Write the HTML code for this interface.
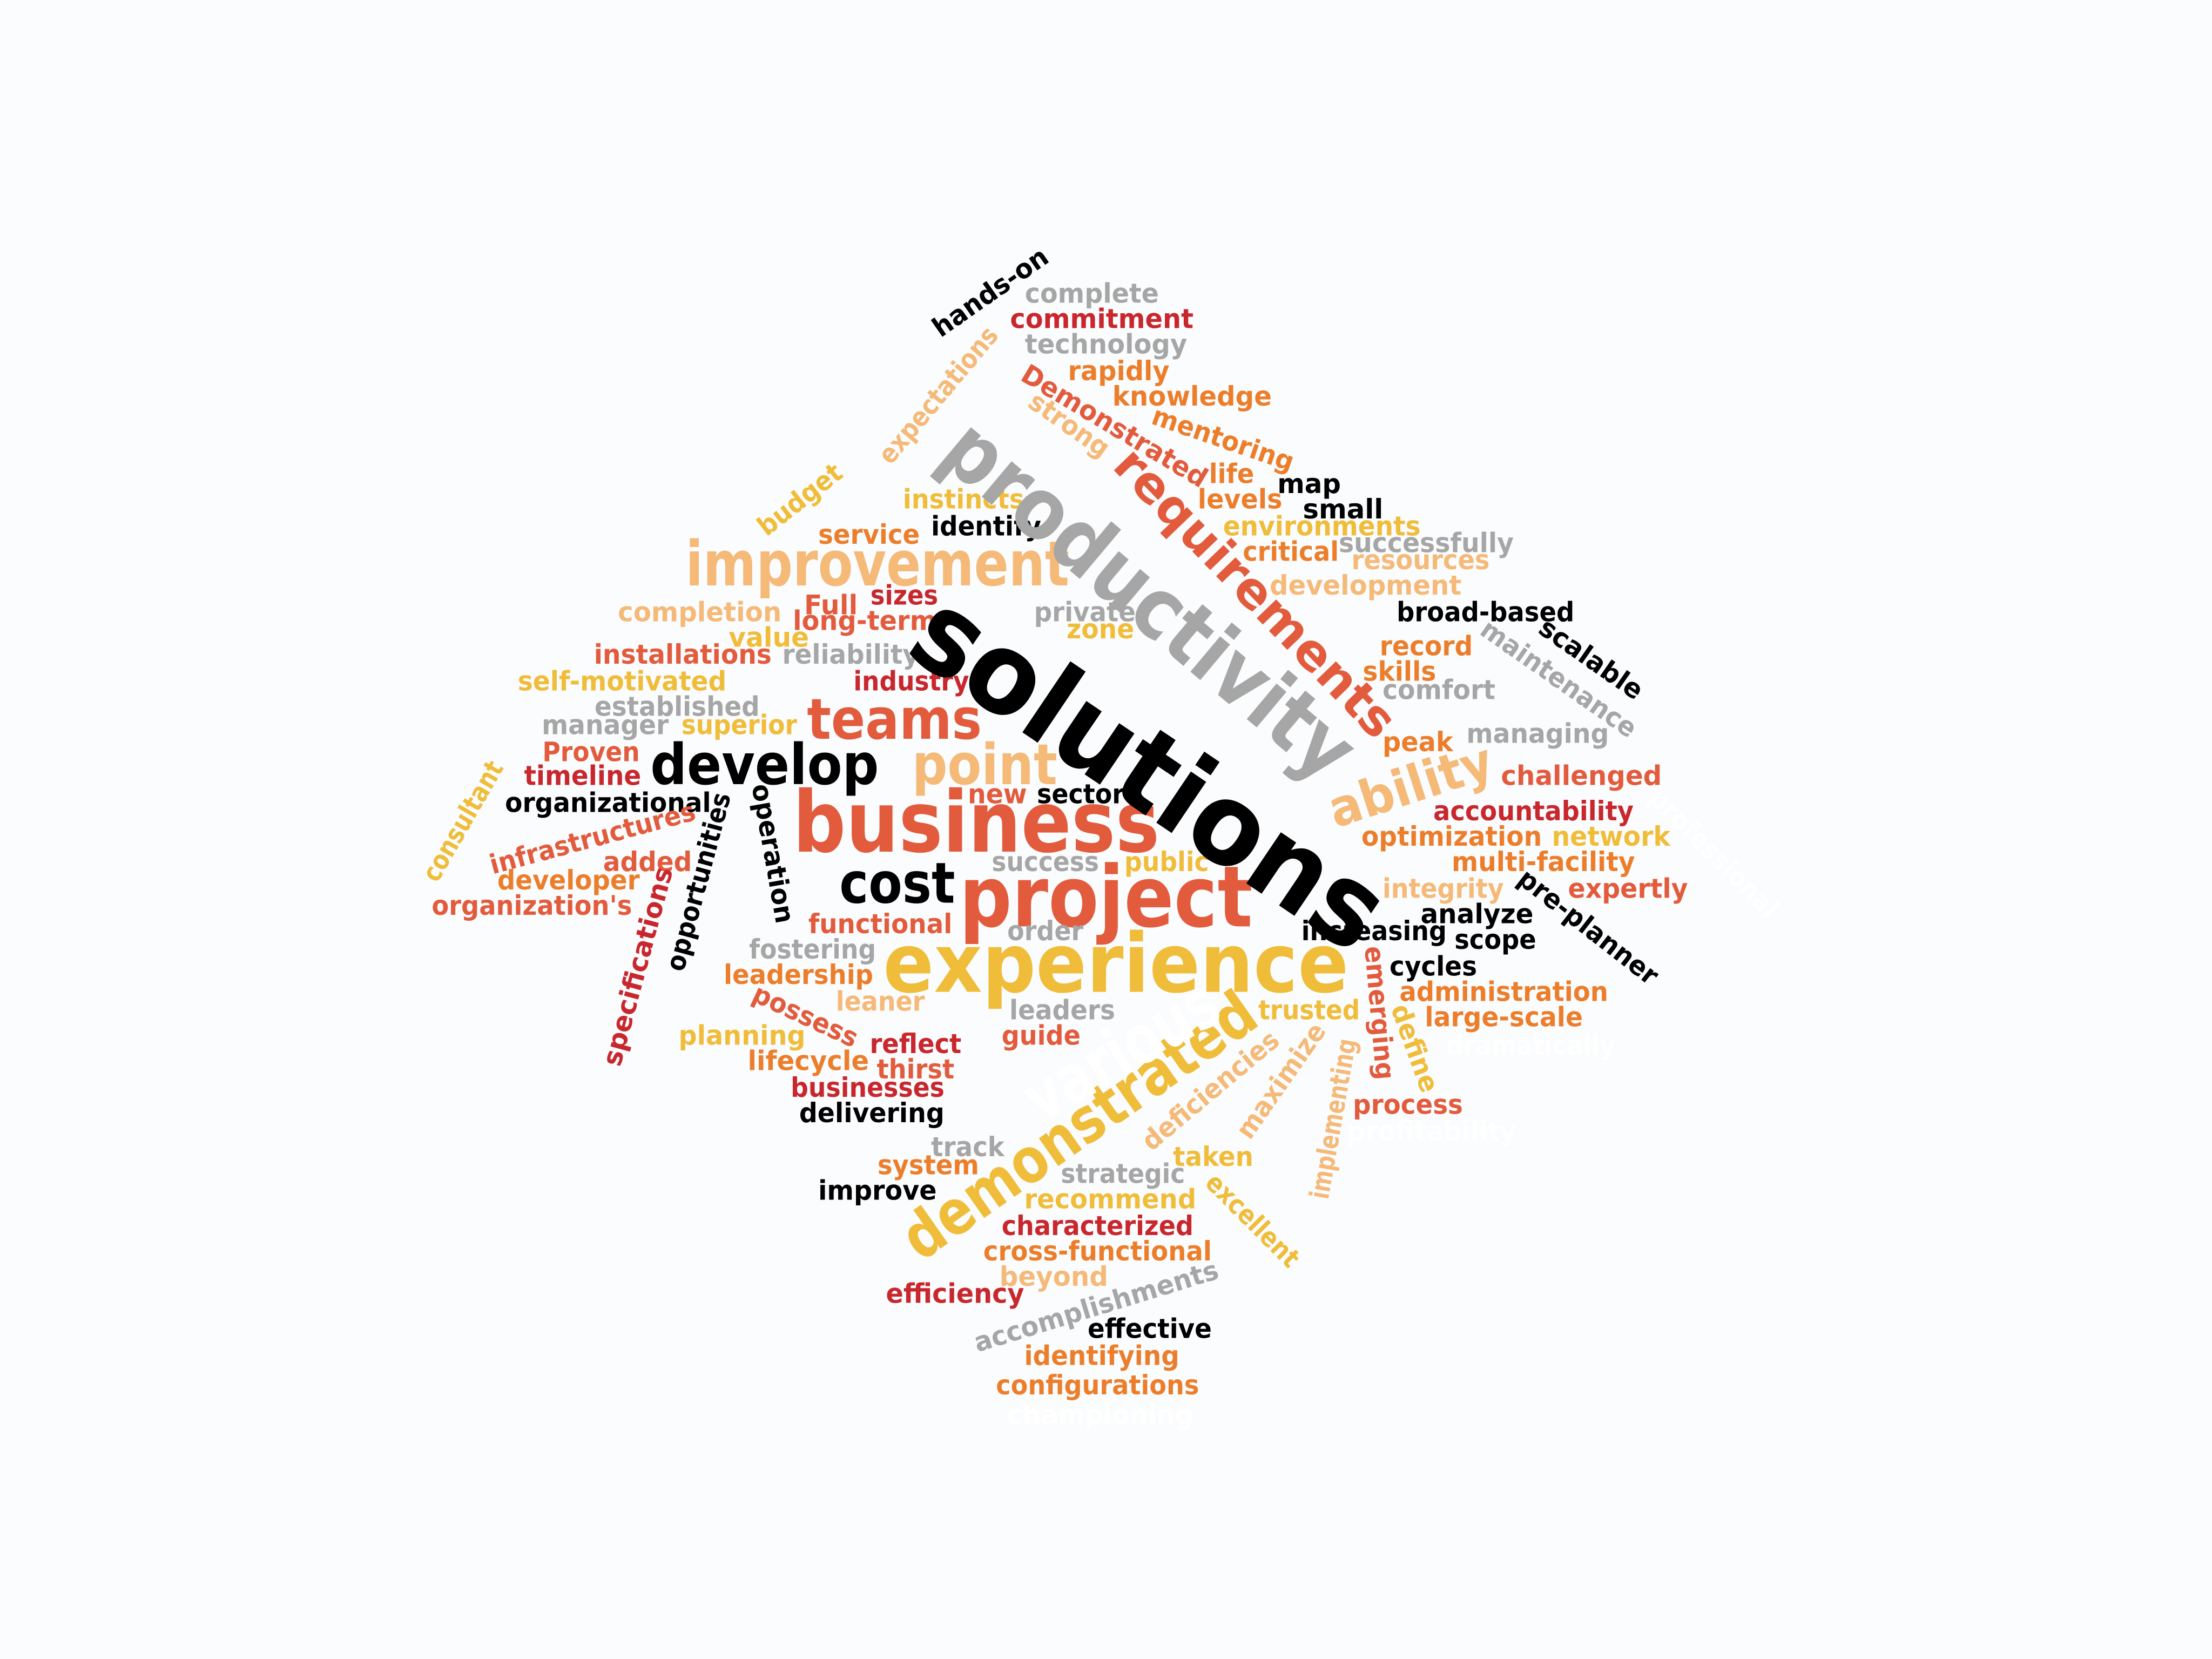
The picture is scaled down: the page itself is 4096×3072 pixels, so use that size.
<!DOCTYPE html>
<html><head><meta charset="utf-8"><style>
html,body{margin:0;padding:0;background:#fbfcfe;}
svg{display:block}
text{font-family:"DejaVu Sans","Liberation Sans",sans-serif;font-weight:600;}
</style></head><body>
<svg id="cloud" width="4096" height="3072" viewBox="0 0 1568 1176" xmlns="http://www.w3.org/2000/svg">
<rect width="1568" height="1176" fill="#fbfcfe"/>
</svg>
<script>
const palette={k:"#000000",g:"#a6a6a6",d:"#c8272d",r:"#e35b3d",o:"#ec7e2b",l:"#f5b978",y:"#f0bd3a",w:"#ffffff"};
// word, font size, colour key
const words=["hands-on","complete","commitment","technology","rapidly","knowledge","Demonstrated","strong","mentoring","expectations","budget","life","map","levels","small","instincts","identify","environments","service","successfully","critical","resources","improvement","development","Full","sizes","completion","long-term","private","broad-based","zone","value","record","installations","reliability","skills","self-motivated","industry","comfort","established","teams","manager","superior","managing","peak","Proven","develop","point","timeline","challenged","new","sector","organizational","accountability","business","optimization","network","added","success","public","multi-facility","developer","cost","project","integrity","expertly","organization's","analyze","functional","order","increasing","scope","fostering","experience","cycles","leadership","administration","leaner","leaders","trusted","large-scale","planning","reflect","guide","lifecycle","thirst","businesses","process","delivering","track","taken","system","strategic","improve","recommend","characterized","cross-functional","beyond","efficiency","effective","identifying","configurations","championing","solutions","productivity","requirements","ability","scalable","maintenance","consultant","infrastructures","specifications","opportunities","operation","possess","demonstrated","deficiencies","maximize","implementing","emerging","define","excellent","accomplishments","pre-planner","various","professional","dramatically","profitability"];
const sizes=[19,19,19,19,19,19,19,19,19,19,19,19,19,19,19,19,19,19,19,19,19,19,44,19,19,19,19,19,19,19,19,19,19,19,19,19,19,19,19,19,40,19,19,19,19,19,40,40,19,19,19,19,19,19,60,19,19,19,19,19,19,19,40,60,19,19,19,19,19,19,19,19,19,58,19,19,19,19,19,19,19,19,19,19,19,19,19,19,19,19,19,19,19,19,19,19,19,19,19,19,19,19,19,80,60,35,36,19,19,19,19,19,19,19,19,44,19,19,19,19,19,19,19,19,48,19,19,19];
const colors=["k","g","d","g","o","o","r","l","o","l","y","o","k","o","k","y","k","y","o","g","o","l","l","l","r","d","l","r","g","k","y","y","o","r","g","o","y","d","g","g","r","g","y","g","o","r","k","l","d","r","r","k","k","d","r","o","y","r","g","y","o","o","k","r","l","r","r","k","r","g","k","k","g","y","k","o","o","l","g","y","o","y","d","r","o","r","d","r","k","g","y","o","g","k","y","d","o","l","d","k","o","o","w","k","g","r","l","k","g","y","r","d","k","k","r","y","l","l","l","r","y","y","g","k","w","w","w","w"];
// layout: centre x, centre y, text width, rotation (deg)
const layout=[[702,207,95,-35],[774,208,95,0],[781,226,130,0],[784,244,115,0],[793,263,72,0],[845,281,113,0],[790,302,150,31],[758,301,65,35],[867,311,105,19],[665,280,120,-50],[567,354,70,-38],[873,336,32,0],[928,343,45,0],[879,354,60,0],[952,361,57,0],[683,354,86,0],[699,373,78,0],[937,373,140,0],[616,379,72,0],[1011,385,124,0],[915,391,68,0],[1007,397,98,0],[622,400,272,0],[968,415,136,0],[589,429,38,0],[641,422,48,0],[496,434,116,0],[613,440,102,0],[769,434,72,0],[1053,434,126,0],[780,446,48,0],[545,452,57,0],[1011,458,66,0],[484,464,126,0],[603,464,97,0],[992,476,52,0],[441,483,148,0],[646,483,82,0],[1020,489,80,0],[480,501,117,0],[634,510,124,0],[429,514,90,0],[524,514,82,0],[1090,520,101,0],[1005,526,50,0],[419,533,69,0],[542,542,162,0],[698,542,103,0],[413,550,83,0],[1121,550,114,0],[707,563,42,0],[766,563,62,0],[431,569,146,0],[1087,575,142,0],[692,583,260,0],[1029,593,128,0],[1142,593,84,0],[459,611,63,0],[741,611,76,0],[827,611,60,0],[1094,611,130,0],[403,624,101,0],[636,626,82,0],[784,636,208,0],[1023,630,86,0],[1154,630,85,0],[377,642,142,0],[1047,648,80,0],[624,655,102,0],[741,660,54,0],[974,660,103,0],[1060,666,58,0],[576,673,90,0],[791,683,330,0],[1016,685,62,0],[566,691,106,0],[1066,703,148,0],[624,710,63,0],[753,716,75,0],[928,716,72,0],[1066,721,112,0],[526,734,90,0],[649,740,65,0],[738,734,56,0],[573,752,86,0],[649,758,55,0],[615,771,109,0],[998,783,78,0],[618,789,103,0],[686,813,52,0],[860,820,57,0],[658,826,72,0],[796,832,88,0],[622,844,84,0],[787,850,122,0],[778,869,136,0],[778,887,162,0],[747,905,77,0],[677,917,98,0],[815,942,88,0],[781,961,110,0],[778,982,144,0],[780,1003,132,0],[815,547,385,34],[815,425,360,40],[890,420,270,46],[1000,557,120,-18],[1128,467,85,35],[1105,481,130,35],[328,582,95,-60],[420,594,150,-15],[452,685,145,-75],[495,625,130,-75],[548,605,100,80],[571,720,80,25],[765,798,295,-35],[858,773,120,-40],[908,766,95,-55],[945,793,115,-80],[978,718,95,85],[1003,743,65,70],[888,865,85,45],[777,926,180,-17],[1126,657,120,38],[795,745,150,-30],[1215,605,120,45],[1085,741,120,0],[1015,802,120,0]];
const svg=document.getElementById('cloud');
const NS="http://www.w3.org/2000/svg";
for(let i=0;i<words.length;i++){
  const [cx,cy,w,a]=layout[i];
  const t=document.createElementNS(NS,'text');
  t.setAttribute('x',cx);
  t.setAttribute('y',cy);
  t.setAttribute('text-anchor','middle');
  t.setAttribute('dominant-baseline','central');
  t.setAttribute('font-size',sizes[i]);
  t.setAttribute('fill',palette[colors[i]]);
  t.setAttribute('textLength',w);
  t.setAttribute('lengthAdjust','spacingAndGlyphs');
  if(a)t.setAttribute('transform','rotate('+a+' '+cx+' '+cy+')');
  t.textContent=words[i];
  
  
  svg.appendChild(t);
}
</script>
</body></html>
